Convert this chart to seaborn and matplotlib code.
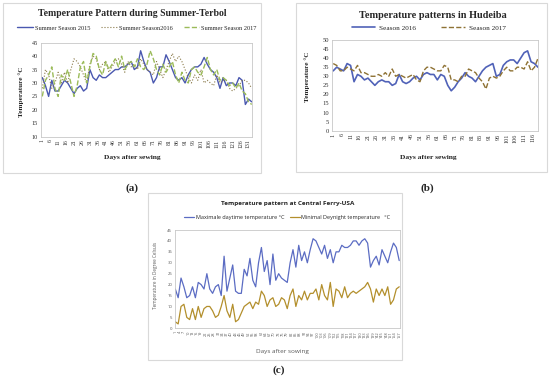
import numpy as np
import pandas as pd
import matplotlib
matplotlib.use("Agg")
import matplotlib.pyplot as plt
import seaborn as sns
from matplotlib.patches import Rectangle

# panel (a) - Terbol, every second day
days_a = list(range(1, 134, 2))
terbol_2015 = [32, 29, 25, 31, 27, 27, 29, 31, 30, 28, 26, 28, 29, 27, 28, 35, 32, 31, 33, 32,
               32, 33, 34, 35, 35, 36, 36, 37, 38, 35, 36, 42, 38, 35, 34, 30, 32, 36, 36, 40.5,
               38, 35, 32, 31, 32, 30, 33, 35, 36, 36, 37, 39.5, 37, 35, 34, 32, 28, 32, 29, 30,
               30, 29, 32, 31, 22, 24, 23]
terbol_2016 = [28, 35, 33, 28, 30, 34, 30, 34, 30, 35, 39, 38, 36, 33, 30, 37, 40, 39, 35, 37,
               38, 34, 36, 38, 39, 37, 34, 38, 36, 37, 35, 39, 37, 35, 34, 33, 38, 35, 32, 35,
               38, 41, 38, 40, 38, 35, 32, 30, 33, 31, 35, 30, 31, 30, 29, 33, 30, 31, 31, 28,
               27, 28, 29, 31, 31, 30, 28]
terbol_2017 = [25, 31, 33, 36, 28, 25, 33, 31, 35, 30, 25, 29, 36, 38, 30, 36, 41, 40, 35, 33,
               38, 35, 37, 39, 36, 40, 35, 37, 38, 36, 39, 36, 35, 37, 42, 39, 35, 33, 37, 34,
               36, 38, 33, 30, 34, 31, 30, 35, 36, 34, 33, 36, 39.5, 35, 33, 35, 31, 32, 31, 29,
               30, 28, 30, 27, 26, 23, 22]

# panel (b) - Hudeiba, every second day
days_b = list(range(1, 120, 2))
hud_2016 = [33, 35, 34, 33, 37, 36, 27, 31, 30, 28, 29, 27, 25, 27, 28, 27, 27, 25, 26, 31,
            27, 26, 27, 29, 30, 28, 31, 32, 31, 31, 28, 31, 30, 25, 22, 24, 27, 29, 32, 30,
            29, 27, 30, 33, 35, 36, 37, 30, 31, 36, 38, 39, 39, 37, 40, 43, 44, 38, 37, 35]
hud_2017 = [37, 36, 33, 33, 35, 34, 33, 36, 32, 32, 31, 30, 30, 31, 30, 32, 30, 34, 30, 31,
            30, 29, 30, 31, 28, 27, 33, 35, 35, 34, 33, 33, 36, 35, 28, 28, 27, 30, 30, 34,
            33, 32, 29, 27, 23, 29, 30, 29, 30, 33, 35, 33, 33, 35, 35, 34, 38, 33, 35, 40]

# panel (c) - Central Ferry, every second day
days_c = list(range(1, 158, 2))
ferry_max = [18, 14, 23, 19, 14, 15, 19, 14, 21, 20, 18, 25, 18, 16, 19, 20, 15, 33, 17, 23,
             29, 17, 16, 16, 27, 24, 32, 22, 19, 30, 37, 26, 31, 20, 34, 22, 25, 23, 22, 21,
             30, 36, 28, 38, 31, 35, 30, 36, 41, 40, 37, 34, 38, 32, 36, 30, 35, 35, 38, 37,
             37, 38, 40, 40, 38, 40, 41, 39, 28, 31, 33, 29, 36, 33, 30, 35, 39, 37, 31]
ferry_min = [3, 2, 10, 11, 5, 4, 9, 4, 10, 5, 9, 10, 10, 8, 5, 6, 10, 15, 8, 5,
             11, 3, 4, 7, 10, 11, 12, 9, 12, 11, 17, 15, 10, 13, 14, 10, 11, 14, 13, 9,
             15, 18, 10, 15, 13, 17, 13, 16, 16, 18, 13, 20, 15, 13, 21, 10, 18, 17, 14, 19,
             14, 16, 17, 16, 17, 18, 19, 21, 18, 12, 18, 15, 18, 15, 19, 11, 13, 18, 19]

W, H = 550, 378
fig = plt.figure(figsize=(W / 100, H / 100), dpi=100)
sns.set_style("white")
serif = ["Liberation Serif", "DejaVu Serif"]
sans = ["Open Sans", "DejaVu Sans"]


def px_axes(left, top, right, bottom):
    return fig.add_axes([left / W, 1 - bottom / H, (right - left) / W, (bottom - top) / H])


def frame(left, top, right, bottom):
    fig.patches.append(Rectangle((left / W, 1 - bottom / H), (right - left) / W, (bottom - top) / H,
                                 transform=fig.transFigure, fill=False, edgecolor="#d9d9d9", lw=0.8))


def style_axes(ax, xticks, ylim, yticks, family, tcolor, fs):
    ax.set_xticks(xticks)
    ax.set_xticklabels([str(t) for t in xticks], rotation=90, fontsize=fs, family=family, color=tcolor)
    ax.set_yticks(yticks)
    ax.set_yticklabels([str(t) for t in yticks], fontsize=fs + 0.3, family=family, color=tcolor)
    ax.set_ylim(*ylim)
    ax.tick_params(length=0, pad=2)
    for s in ax.spines.values():
        s.set_color("#c8c8c8")
        s.set_linewidth(0.6)
    ax.set_xlabel("")
    ax.set_ylabel("")


# ---- (a)
frame(3, 3, 261, 173)
ax = px_axes(40.7, 42.7, 251.7, 136.7)
df_a = pd.DataFrame({"day": days_a, "s15": terbol_2015, "s16": terbol_2016, "s17": terbol_2017})
sns.lineplot(data=df_a, x="day", y="s15", ax=ax, color="#4a58b0", lw=1.0, label="Summer Season 2015")
sns.lineplot(data=df_a, x="day", y="s16", ax=ax, color="#8a7a4a", lw=0.8, linestyle=":", label="Summer Season2016")
sns.lineplot(data=df_a, x="day", y="s17", ax=ax, color="#9bbb59", lw=1.0, linestyle="--", label="Summer Season 2017")
ax.set_xlim(0, 133)
style_axes(ax, list(range(1, 132, 5)), (10, 45), list(range(10, 46, 5)), serif, "#333333", 4.2)
leg = fig.legend(*ax.get_legend_handles_labels(), loc="center", bbox_to_anchor=(137 / W, 1 - 28 / H),
                 ncol=3, frameon=False, prop={"family": serif, "size": 4.6},
                 handlelength=2.4, columnspacing=1.8, handletextpad=0.3, borderpad=0)
ax.get_legend().remove()
fig.text(132 / W, 1 - 13.5 / H, "Temperature Pattern during Summer-Terbol", ha="center", va="center",
         family=serif, fontsize=7.0, fontweight="bold")
fig.text(21 / W, 1 - 92 / H, "Temperature °C", rotation=90, ha="center", va="center",
         family=serif, fontsize=5.2, fontweight="bold")
fig.text(132 / W, 1 - 157 / H, "Days after sewing", ha="center", va="center",
         family=serif, fontsize=5.4, fontweight="bold")
fig.text(132 / W, 1 - 188 / H, "(a)", ha="center", va="center", family=serif, fontsize=8, fontweight="bold")

# ---- (b)
frame(296, 3, 547, 172)
ax = px_axes(332, 40, 538, 130.7)
df_b = pd.DataFrame({"day": days_b, "s16": hud_2016, "s17": hud_2017})
sns.lineplot(data=df_b, x="day", y="s16", ax=ax, color="#5062b8", lw=1.2, label="Season 2016")
sns.lineplot(data=df_b, x="day", y="s17", ax=ax, color="#8e7234", lw=1.0, linestyle="--", label="Season 2017")
ax.set_xlim(0.3, 119)
style_axes(ax, list(range(1, 117, 5)), (0, 50), list(range(0, 51, 5)), serif, "#333333", 4.4)
ax.legend(loc="lower center", bbox_to_anchor=(0.47, 1.03), ncol=2, frameon=False,
          prop={"family": serif, "size": 5.2}, handlelength=3.2, columnspacing=3.5, handletextpad=0.6)
fig.text(433 / W, 1 - 15 / H, "Temperature patterns in Hudeiba", ha="center", va="center",
         family=serif, fontsize=7.4, fontweight="bold")
fig.text(307 / W, 1 - 77 / H, "Temperature °C", rotation=90, ha="center", va="center",
         family=serif, fontsize=5.2, fontweight="bold")
fig.text(428 / W, 1 - 157 / H, "Days after sewing", ha="center", va="center",
         family=serif, fontsize=5.4, fontweight="bold")
fig.text(427 / W, 1 - 188 / H, "(b)", ha="center", va="center", family=serif, fontsize=8, fontweight="bold")

# ---- (c)
frame(148, 193, 402, 360)
ax = px_axes(175, 230, 399.5, 328.3)
df_c = pd.DataFrame({"day": days_c, "tmax": ferry_max, "tmin": ferry_min})
sns.lineplot(data=df_c, x="day", y="tmax", ax=ax, color="#5b6cc3", lw=0.9, label="Maximale daytime temperature °C")
sns.lineplot(data=df_c, x="day", y="tmin", ax=ax, color="#b38f2c", lw=0.9, label="Minimal Deynight temperature   °C")
ax.set_xlim(0.8, 157.2)
style_axes(ax, list(range(1, 158, 3)), (0, 45), list(range(0, 46, 5)), sans, "#595959", 2.8)
ax.legend(loc="lower center", bbox_to_anchor=(0.5, 1.05), ncol=2, frameon=False,
          prop={"family": sans, "size": 4.0}, handlelength=1.8, columnspacing=1.0, handletextpad=0.3)
fig.text(288 / W, 1 - 204 / H, "Temperature pattern at Central Ferry-USA", ha="center", va="center",
         family=sans, fontsize=4.6, fontweight="bold")
fig.text(156 / W, 1 - 275 / H, "Temperature in Degree Celsuis", rotation=90, ha="center", va="center",
         family=sans, fontsize=3.3, color="#595959")
fig.text(282 / W, 1 - 351 / H, "Days after sowing", ha="center", va="center",
         family=sans, fontsize=4.6, color="#595959")
fig.text(279 / W, 1 - 370 / H, "(c)", ha="center", va="center", family=serif, fontsize=8, fontweight="bold")

fig.savefig("out.png", dpi=100, facecolor="white")
